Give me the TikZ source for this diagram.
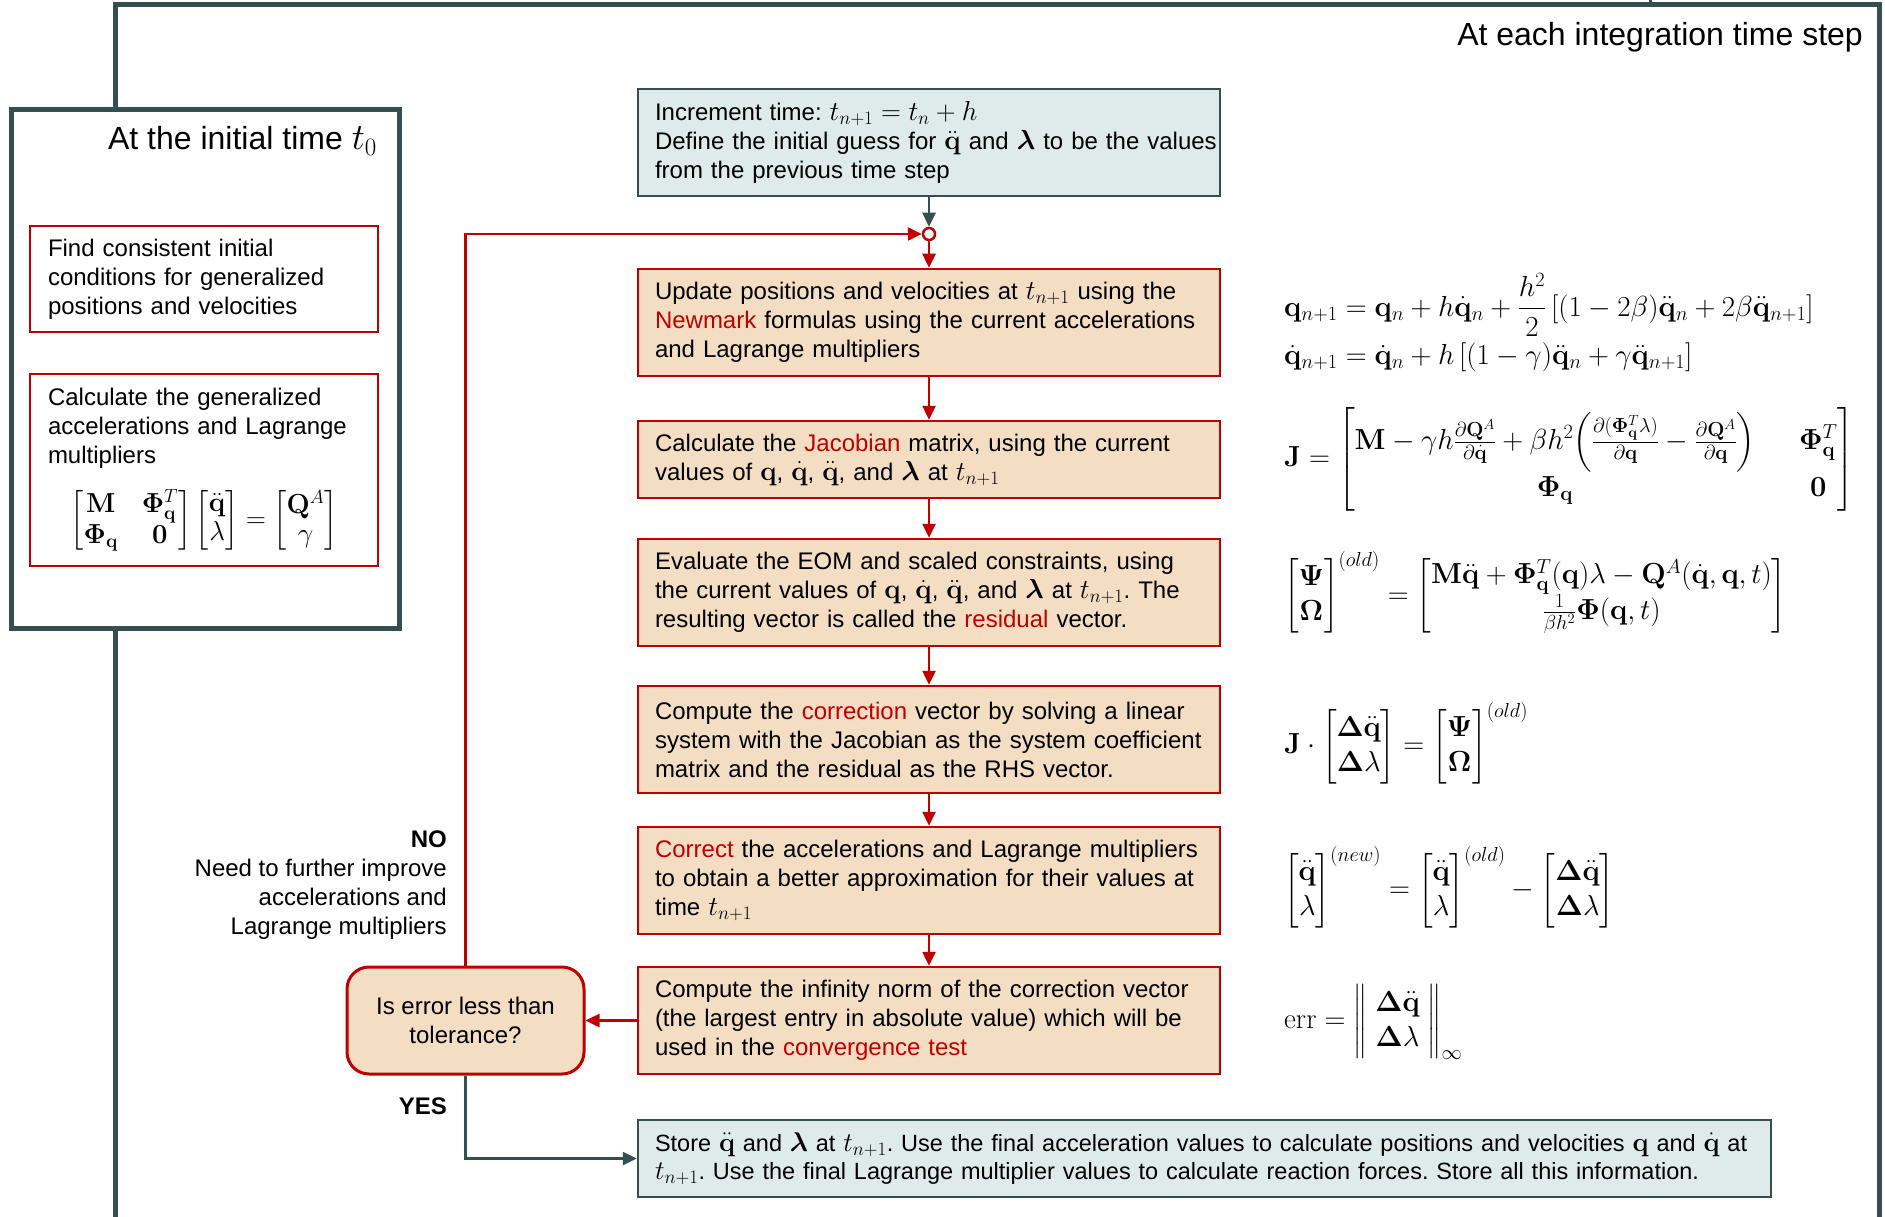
\RequirePackage{fix-cm}
\documentclass[tikz,border=0pt]{standalone}
\usepackage{amsmath}
\usepackage[no-math]{fontspec}
\setmainfont{Liberation Sans}
\usepackage{bm}
\usetikzlibrary{arrows.meta}
\DeclareMathSizes{24}{27.5}{19}{14}
\DeclareMathSizes{23.5}{27}{19}{14}
\DeclareMathSizes{32}{37}{25}{18}
\definecolor{slate}{HTML}{344F4F}
\definecolor{dred}{HTML}{C00000}
\definecolor{boxtan}{HTML}{F3DEC3}
\definecolor{paleteal}{HTML}{DFEAEA}
\newcommand{\bodyfont}{\fontsize{24}{29}\selectfont\frenchspacing}
\newcommand{\storefont}{\fontsize{23.5}{28}\selectfont\frenchspacing}
\newcommand{\headfont}{\fontsize{32}{38}\selectfont}
\newcommand{\eqfont}{\fontsize{29}{35}\selectfont\setlength{\arraycolsep}{14pt}}
\newcommand{\rw}[1]{\textcolor{dred}{#1}}
\newcommand{\qb}{\mathbf{q}}
\newcommand{\qdd}{\ddot{\mathbf{q}}}
\newcommand{\qd}{\dot{\mathbf{q}}}
\newcommand{\blam}{\bm{\lambda}}
\newcommand{\Phq}{\bm{\Phi}_{\mathbf{q}}}
\newcommand{\bDelta}{\mathbf{\Delta}}
\tikzset{
  frameline/.style={draw=slate, line width=5pt},
  initbox/.style={draw=slate, line width=5pt, fill=white, inner sep=0pt},
  redbox/.style={draw=dred, line width=2.5pt, minimum width=348pt, text width=312pt, inner xsep=18pt, align=left, font=\bodyfont},
  mainbox/.style={draw=dred, line width=2.5pt, fill=boxtan, minimum width=582pt, minimum height=107pt, text width=548pt, inner xsep=17pt, align=left, font=\bodyfont},
  tealbox/.style={draw=slate, line width=2.5pt, fill=paleteal, inner xsep=17pt, align=left, font=\bodyfont},
  decbox/.style={draw=dred, line width=3pt, fill=boxtan, rounded corners=22pt, minimum width=237pt, minimum height=107pt, align=center, font=\bodyfont},
  redarrow/.style={draw=dred, line width=2.5pt, -{Triangle[length=14pt,width=13pt]}},
  darkarrow/.style={draw=slate, line width=2.5pt, -{Triangle[length=14pt,width=13pt]}},
  eqnode/.style={anchor=west, inner sep=0pt, font=\eqfont},
  lbl/.style={font=\bodyfont, inner sep=0pt}
}
\begin{document}
\begin{tikzpicture}[x=1pt,y=-1pt]
\useasboundingbox (0,0) rectangle (1885,1217);
% outer frame
\draw[frameline] (115,1217) -- (115,5) -- (1879,5) -- (1879,1217);
\draw[draw=slate, line width=3pt] (1650,0) -- (1650,5);
\node[font=\headfont, anchor=base east, inner sep=0pt] (steptitle) at (1863,46) {At each integration time step};

% initial time box
\node[initbox, minimum width=388pt, minimum height=518pt] (init) at (205,369) {};
\node[font=\headfont, anchor=base east, inner sep=0pt] (inittitle) at (377,150) {At the initial time $t_0$};
\node[redbox, minimum height=106pt] (ic) at (204,279) {\mbox{Find consistent initial}\\\mbox{conditions for generalized}\\\mbox{positions and velocities}};
\node[redbox, minimum height=192pt] (acc) at (204,470) {\mbox{Calculate the generalized}\\\mbox{accelerations and Lagrange}\\\mbox{multipliers}\\[20pt]
\makebox[312pt]{\setlength{\arraycolsep}{12pt}$\begin{bmatrix}\mathbf{M} & \Phq^{T}\\ \Phq & \mathbf{0}\end{bmatrix}\begin{bmatrix}\qdd\\ \lambda\end{bmatrix}=\begin{bmatrix}\mathbf{Q}^{A}\\ \gamma\end{bmatrix}$}};

% main column
\node[tealbox, minimum width=582pt, minimum height=107pt, text width=548pt] (inc) at (929,142.5) {\mbox{Increment time: $t_{n+1}=t_n+h$}\\\mbox{Define the initial guess for $\qdd$ and $\blam$ to be the values}\\\mbox{from the previous time step}};
\node[circle, draw=dred, fill=white, line width=2.5pt, minimum size=12pt, inner sep=0pt] (junc) at (929,234) {};
\node[mainbox] (upd) at (929,322.5) {\mbox{Update positions and velocities at $t_{n+1}$ using the}\\\mbox{\rw{Newmark} formulas using the current accelerations}\\\mbox{and Lagrange multipliers}};
\node[mainbox, minimum height=77pt] (jac) at (929,459.5) {\mbox{Calculate the \rw{Jacobian} matrix, using the current}\\\mbox{values of $\qb$, $\qd$, $\qdd$, and $\blam$ at $t_{n+1}$}};
\node[mainbox] (eom) at (929,592.5) {\mbox{Evaluate the EOM and scaled constraints, using}\\\mbox{the current values of $\qb$, $\qd$, $\qdd$, and $\blam$ at $t_{n+1}$. The}\\\mbox{resulting vector is called the \rw{residual} vector.}};
\node[mainbox] (corr) at (929,739.5) {\mbox{Compute the \rw{correction} vector by solving a linear}\\\mbox{system with the Jacobian as the system coefficient}\\\mbox{matrix and the residual as the RHS vector.}};
\node[mainbox] (fix) at (929,880.5) {\mbox{\rw{Correct} the accelerations and Lagrange multipliers}\\\mbox{to obtain a better approximation for their values at}\\\mbox{time $t_{n+1}$}};
\node[mainbox] (norm) at (929,1020.5) {\mbox{Compute the infinity norm of the correction vector}\\\mbox{(the largest entry in absolute value) which will be}\\\mbox{used in the \rw{convergence test}}};
\node[decbox] (dec) at (465.5,1020.5) {Is error less than\\tolerance?};
\node[tealbox, font=\storefont, minimum width=1133pt, minimum height=77pt, text width=1099pt] (store) at (1204.5,1158.5) {\mbox{Store $\qdd$ and $\blam$ at $t_{n+1}$. Use the final acceleration values to calculate positions and velocities $\qb$ and $\qd$ at}\\\mbox{$t_{n+1}$. Use the final Lagrange multiplier values to calculate reaction forces. Store all this information.}};

% labels
\node[lbl, anchor=east, align=right] (nolab) at (447,885) {\textbf{NO}\\Need to further improve\\accelerations and\\Lagrange multipliers};
\node[lbl, anchor=east, font=\bodyfont\bfseries] (yeslab) at (447,1106) {YES};

% connectors
\draw[darkarrow] (inc) -- (junc);
\draw[redarrow] (junc) -- (upd);
\draw[redarrow] (upd) -- (jac);
\draw[redarrow] (jac) -- (eom);
\draw[redarrow] (eom) -- (corr);
\draw[redarrow] (corr) -- (fix);
\draw[redarrow] (fix) -- (norm);
\draw[redarrow] (norm) -- (dec);
\draw[redarrow] (dec.north) |- (junc.west);
\draw[darkarrow] (dec.south) |- (store.west);

% equations
\node[eqnode] (eqnew) at (1284,324) {$\begin{aligned}\qb_{n+1} &= \qb_n + h\qd_n + \frac{h^2}{2}\,[(1-2\beta)\qdd_n + 2\beta\qdd_{n+1}]\\ \qd_{n+1} &= \qd_n + h\,[(1-\gamma)\qdd_n + \gamma\qdd_{n+1}]\end{aligned}$};
\node[eqnode] (eqjac) at (1284,459.5) {\setlength{\arraycolsep}{22pt}$\mathbf{J}=\begin{bmatrix}\mathbf{M}-\gamma h\tfrac{\partial\mathbf{Q}^A}{\partial\qd}+\beta h^2\Bigl(\tfrac{\partial(\Phq^T\lambda)}{\partial\qb}-\tfrac{\partial\mathbf{Q}^A}{\partial\qb}\Bigr) & \Phq^T\\ \Phq & \mathbf{0}\end{bmatrix}$};
\node[eqnode] (eqres) at (1284,592.5) {$\begin{bmatrix}\bm{\Psi}\\ \bm{\Omega}\end{bmatrix}^{(old)}=\begin{bmatrix}\mathbf{M}\qdd+\Phq^T(\qb)\lambda-\mathbf{Q}^A(\qd,\qb,t)\\ \tfrac{1}{\beta h^2}\bm{\Phi}(\qb,t)\end{bmatrix}$};
\node[eqnode] (eqcorr) at (1284,743) {$\mathbf{J}\cdot\begin{bmatrix}\bDelta\qdd\\ \bDelta\lambda\end{bmatrix}=\begin{bmatrix}\bm{\Psi}\\ \bm{\Omega}\end{bmatrix}^{(old)}$};
\node[eqnode] (eqfix) at (1284,887) {$\begin{bmatrix}\qdd\\ \lambda\end{bmatrix}^{(new)}=\begin{bmatrix}\qdd\\ \lambda\end{bmatrix}^{(old)}-\begin{bmatrix}\bDelta\qdd\\ \bDelta\lambda\end{bmatrix}$};
\node[eqnode] (eqerr) at (1284,1022) {$\mathrm{err}=\left\|\;\begin{matrix}\bDelta\qdd\\ \bDelta\lambda\end{matrix}\;\right\|_{\infty}$};
\end{tikzpicture}
\end{document}
